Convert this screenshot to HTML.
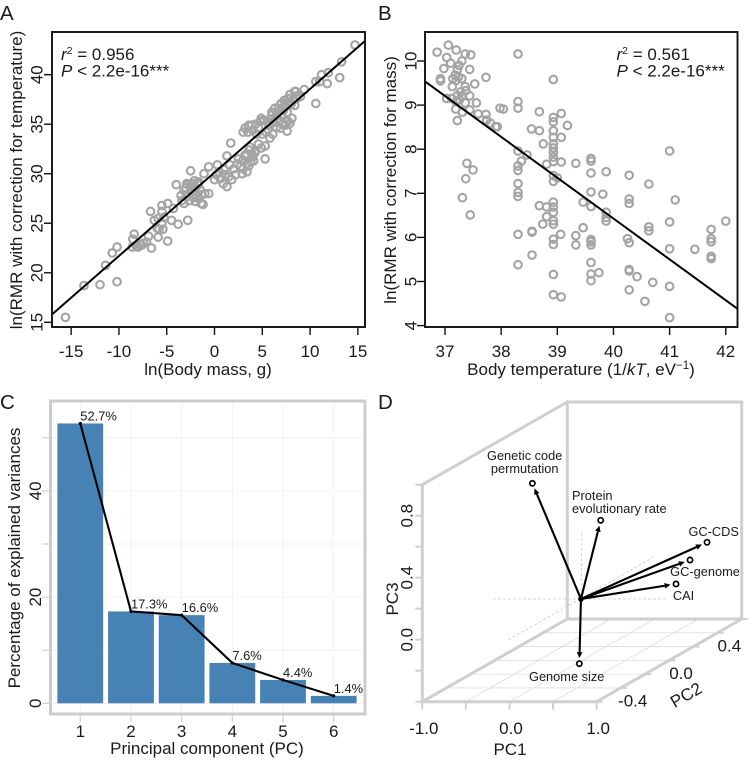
<!DOCTYPE html>
<html lang="en">
<head>
<meta charset="utf-8">
<title>RMR and PCA panels</title>
<style>
html,body{margin:0;padding:0;background:#fff;}
svg{display:block;font-family:"Liberation Sans",Arial,sans-serif;fill:#1a1a1a;}
</style>
</head>
<body>
<svg id="figure" xmlns="http://www.w3.org/2000/svg" width="750" height="762" viewBox="0 0 750 762">
  <rect x="0" y="0" width="750" height="762" fill="#fff"/>
  <text x="0" y="20" font-size="20.5">A</text>
  <text x="378" y="20" font-size="20.5">B</text>
  <text x="0" y="409" font-size="20.5">C</text>
  <text x="378" y="409" font-size="20.5">D</text>

  <g id="panelA"></g>
  <g id="panelB"></g>
  <g id="panelC"></g>
  <g id="panelD"></g>

  <text x="61" y="60" font-size="17"><tspan font-style="italic">r</tspan><tspan font-size="10.5" dy="-6">2</tspan><tspan dy="6"> = 0.956</tspan></text>
  <text x="61" y="76.5" font-size="17"><tspan font-style="italic">P</tspan> &lt; 2.2e-16***</text>
  <text x="616.5" y="60" font-size="17"><tspan font-style="italic">r</tspan><tspan font-size="10.5" dy="-6">2</tspan><tspan dy="6"> = 0.561</tspan></text>
  <text x="616.5" y="76.5" font-size="17"><tspan font-style="italic">P</tspan> &lt; 2.2e-16***</text>

  <text x="208" y="375" font-size="17" text-anchor="middle">ln(Body mass, g)</text>
  <text transform="translate(22,180) rotate(-90)" font-size="17" text-anchor="middle">ln(RMR with correction for temperature)</text>
  <text x="581" y="375" font-size="17" text-anchor="middle">Body temperature (1/<tspan font-style="italic">kT</tspan>, eV<tspan font-size="11.5" dy="-6">−1</tspan><tspan dy="6">)</tspan></text>
  <text transform="translate(396,180) rotate(-90)" font-size="17" text-anchor="middle">ln(RMR with correction for mass)</text>
  <text x="207" y="754" font-size="17" text-anchor="middle">Principal component (PC)</text>
  <text transform="translate(20,558) rotate(-90)" font-size="17" text-anchor="middle">Percentage of explained variances</text>
  <text x="510" y="755" font-size="17" text-anchor="middle">PC1</text>
  <text transform="translate(398,599) rotate(-90)" font-size="17" text-anchor="middle">PC3</text>
  <text transform="translate(689,700) rotate(-30)" font-size="17" text-anchor="middle">PC2</text>
</svg>

<script>
// Panel A data
var massValues = [-15.6,-13.66,-11.98,-10.2,-11.4,-10.7,-10.2,-8.4,-8.55,-8.6,-8.0,-7.6,-6.9,-7.1,-6.6,-5.9,-4.9,-5.8,-5.4,-6.0,-4.5,-3.8,-2.8,-6.7,-5.5,-4.9,-5.5,-4.3,-6.3,-5.9,-5.5,-5.3,-7.8,-7.4,-8.2,
-3.5,-3.2,-3,-2.8,-2.5,-2.3,-2,-1.7,-3.4,-3.2,-2.9,-2.6,-2.2,-1.9,-1.6,-1.3,-1,-0.6,-2.4,-2.1,-1.8,-1.5,-2.0,-1.4,-1.2,
-4,-2.9,-2.5,-1.7,-1.1,-0.6,0.3,0,0.9,1.3,1.8,1.1,1.6,1.3,1.7,2,3,3.4,3.2,3.7,3.9,4.2,4.1,5.3,5.3,5.8,3,3.9,3.5,4.4,4.9,5.2,6,6.7,7,7.7,8.1,7.6,7.9,6.9,
3.2,3.6,4.0,4.3,4.6,4.8,5.1,5.4,5.7,5.9,6.2,6.4,6.6,6.8,7.0,7.2,7.4,7.6,7.8,8.0,8.2,8.4,8.7,9.0,5.0,5.6,6.1,6.5,7.1,7.4,7.7,6.0,6.3,6.9,7.3,7.9,8.5,
2.4,2.7,3.0,3.3,3.6,3.8,4.0,4.3,2.9,3.4,2.2,1.5,2.5,3.6,4.6,4.9,1.0,0.5,0.2,0.6,
9.4,8.4,8.6,10.6,11.0,10.6,11.2,11.8,11.9,13.1,13.3,14.7];
var rmrCorrectedValues = [15.5,18.7,18.8,19.1,20.75,22.0,22.6,23.9,23.4,22.6,22.6,22.8,23.7,23.1,22.5,23.6,23.2,24.4,24.4,24.5,25.3,24.9,25.3,26.2,26.8,27.0,26.2,26.5,25.3,25.5,25.0,25.6,22.9,23.0,22.7,
27.8,28.3,28.6,28.9,28.7,28.2,28.6,28.9,27.3,27.0,27.7,27.3,27.6,27.9,27.5,27.9,28.0,28.0,29,29.3,29.1,28.4,27.2,27.0,26.9,
28.9,29.0,30.3,29.2,30.0,30.7,30.9,29.4,29,28.7,29.4,29.9,30.9,31.8,33.1,30.5,30.5,31,31.9,32.7,32,32.1,31.3,31.5,32.8,33.6,34.2,34.9,34.2,34,35.6,35.4,35.9,36.6,37.1,37.6,35.6,34.3,35.1,34.6,
34.6,34.9,34.4,35.0,34.6,35.3,35.4,34.2,35.0,35.5,35.2,35.8,36.2,35.4,35.9,36.4,36.9,36.2,37.2,37.0,37.5,36.9,37.9,37.8,34,34.5,34.0,34.7,35.0,34.9,35.3,36.2,36.6,37.0,37.4,38.0,38.3,
31.0,30.7,31.4,31.8,30.8,31.2,31.7,32.3,30.0,30.2,29.9,29.7,31.5,32.4,33,32.6,30.4,30.2,29.9,29.5,
38.5,38.3,37.6,37.1,39.3,39.3,40.0,39.1,40.2,39.7,41.3,43.0];
var fitA = [30.13, 0.843];
var xTicksA = [-15,-10,-5,0,5,10,15];
var yTicksA = [15,20,25,30,35,40];

// Panel B data
var bodyTempValues = [37.06,36.86,37.2,37.36,37.46,37.03,37.1,37.3,37.25,36.98,37.44,37.22,37.18,37.24,37.14,37.2,36.92,36.92,37.3,37.73,37.53,37.13,37.36,37.37,37.28,37.22,37.3,37.44,37.03,37.12,37.26,37.2,37.36,37.56,37.44,37.31,37.19,37.59,37.73,37.74,37.81,37.9,37.93,37.22,37.98,38.04,38.3,38.3,38.3,
38.93,38.68,39.07,38.93,38.93,39.18,38.54,38.68,38.93,38.93,39.07,38.75,38.93,38.93,38.93,38.93,38.93,39.07,38.3,38.46,38.36,38.3,38.3,38.3,38.3,38.3,37.39,37.5,37.37,37.31,37.45,38.81,38.93,39.0,38.93,39.33,39.6,39.6,39.6,39.87,40.28,40.63,41.0,39.6,39.81,40.28,41.1,40.28,
39.46,39.6,39.87,39.87,39.87,38.68,38.81,38.93,38.93,38.93,38.81,38.74,38.93,38.93,39.46,39.06,39.33,39.33,39.6,39.6,39.6,38.3,38.55,38.55,38.93,38.93,38.55,38.3,38.93,39.6,39.6,39.6,39.74,38.93,39.07,
40.25,40.28,40.63,40.63,41.0,41.0,41.45,41.74,41.74,41.74,41.74,41.74,42.0,40.28,40.28,40.42,40.7,40.28,40.56,41.0,41.0];
var rmrMassValues = [10.36,10.2,10.25,10.16,10.14,10.08,9.95,10.0,9.9,9.83,9.81,9.8,9.68,9.64,9.6,9.56,9.6,9.55,9.6,9.63,9.48,9.42,9.42,9.33,9.3,9.22,9.2,9.21,9.15,9.15,9.12,9.08,9.05,9.05,8.89,8.84,8.91,8.8,8.79,8.66,8.59,8.51,8.51,8.65,8.93,8.91,10.16,9.08,8.93,
9.58,8.85,8.81,8.72,8.62,8.54,8.46,8.42,8.42,8.27,8.27,8.12,8.12,8.03,7.93,7.82,7.72,7.71,7.96,7.87,7.73,7.62,7.52,7.22,7.02,6.93,7.68,7.53,7.33,6.9,6.51,7.66,7.4,7.35,7.27,7.68,7.79,7.73,7.46,7.49,7.41,7.21,7.96,7.03,6.98,6.87,6.85,6.77,
6.8,6.7,6.57,6.45,6.37,6.72,6.69,6.8,6.69,6.57,6.47,6.3,6.38,6.3,6.22,6.07,6.04,5.83,5.95,5.9,5.83,6.07,6.14,6.12,5.96,5.84,5.6,5.38,5.16,5.43,5.17,5.02,5.2,4.7,4.65,
5.97,5.88,6.24,6.15,6.35,5.74,5.73,6.18,5.97,5.9,5.57,5.52,6.37,5.27,5.24,5.11,4.98,4.81,4.55,4.89,4.18];
var fitB = [9.53, -0.926, 36.65];
var xTicksB = [37,38,39,40,41,42];
var yTicksB = [4,5,6,7,8,9,10];

// Panel C data
var components = [1,2,3,4,5,6];
var explained = [52.7,17.3,16.6,7.6,4.4,1.4];
var explainedLabels = ['52.7%','17.3%','16.6%','7.6%','4.4%','1.4%'];
var yTicksC = [0,10,20,30,40,50];
var yLabelsC = [0,20,40];

// Panel D data
var loadingNames = ['genetic-code','protein-rate','gc-cds','gc-genome','cai','genome-size'];
var pc1Loadings = [-0.015,0.353,0.949,0.823,0.801,0.385];
var pc2Loadings = [-0.2,0.1,0.55,0.5,0.4,-0.1];
var pc3Loadings = [0.92,0.548,0.206,0.114,0.004,-0.288];
var loadingOrigin = [0.265,0,0.085];
var pc1Ticks = [-1,-0.5,0,0.5,1];
var pc1Labels = ['-1.0','0.0','1.0'];
var pc1LabelValues = [-1,0,1];
var pc2Ticks = [-0.4,-0.2,0,0.2,0.4,0.6,0.8];
var pc2Labels = ['-0.4','0.0','0.4'];
var pc2LabelValues = [-0.4,0,0.4];
var pc3Ticks = [-0.4,-0.2,0,0.2,0.4,0.6,0.8,1.0];
var pc3Labels = ['0.0','0.4','0.8'];
var pc3LabelValues = [0,0.4,0.8];

var NS = 'http://www.w3.org/2000/svg';
function mk(tag, attrs, parent) {
  var el = document.createElementNS(NS, tag);
  for (var k in attrs) el.setAttribute(k, attrs[k]);
  parent.appendChild(el);
  return el;
}

function drawScatter(panel, prefix, box, sx, sy, xs, ys, xTicks, yTicks, yLabelX, fitFn) {
  var i, el;
  for (i = 0; i < xs.length; i++) {
    el = mk('circle', {cx: sx(xs[i]), cy: sy(ys[i]), r: 3.8, fill: 'none', stroke: '#a4a4a4', 'stroke-width': 2.1}, panel);
    
    
  }
  var x0 = box[0], x1 = box[2];
  var invX = function (px) { return fitFn.invX(px); };
  el = mk('line', {x1: x0 + 0.5, y1: sy(fitFn.y(invX(x0 + 0.5))), x2: x1 - 0.5, y2: sy(fitFn.y(invX(x1 - 0.5))), stroke: '#000', 'stroke-width': 2}, panel);
  
  
  el = mk('rect', {x: box[0], y: box[1], width: box[2] - box[0], height: box[3] - box[1], fill: 'none', stroke: '#111', 'stroke-width': 1.9}, panel);
  
  
  xTicks.forEach(function (v) {
    var t = mk('line', {x1: sx(v), x2: sx(v), y1: box[3], y2: box[3] + 8, stroke: '#111', 'stroke-width': 1.4}, panel);
    
    
    var l = mk('text', {x: sx(v), y: 357, 'font-size': 17, 'text-anchor': 'middle'}, panel);
    l.textContent = String(v);
    
    
  });
  yTicks.forEach(function (v) {
    var t = mk('line', {x1: box[0] - 8, x2: box[0], y1: sy(v), y2: sy(v), stroke: '#111', 'stroke-width': 1.4}, panel);
    
    
    var l = mk('text', {transform: 'translate(' + yLabelX + ',' + sy(v) + ') rotate(-90)', 'font-size': 17, 'text-anchor': 'middle'}, panel);
    l.textContent = String(v);
    
    
  });
}

// Panel A
(function () {
  var sx = function (v) { return 214.5 + v * 9.556; };
  var sy = function (v) { return 322.3 - (v - 15) * 9.904; };
  drawScatter(document.getElementById('panelA'), 'mass', [52, 32, 365, 327], sx, sy, massValues, rmrCorrectedValues, xTicksA, yTicksA, 42.5, {
    invX: function (px) { return (px - 214.5) / 9.556; },
    y: function (x) { return fitA[0] + fitA[1] * x; }
  });
})();

// Panel B
(function () {
  var sx = function (v) { return 445 + (v - 37) * 56.15; };
  var sy = function (v) { return 61 + (10 - v) * 44.1; };
  drawScatter(document.getElementById('panelB'), 'temperature', [425, 32, 737.5, 327], sx, sy, bodyTempValues, rmrMassValues, xTicksB, yTicksB, 416.5, {
    invX: function (px) { return 37 + (px - 445) / 56.15; },
    y: function (x) { return fitB[0] + fitB[1] * (x - fitB[2]); }
  });
})();

// Panel C
(function () {
  var g = document.getElementById('panelC');
  var sx = function (v) { return 80.3 + (v - 1) * 50.68; };
  var sy = function (v) { return 703.3 - v * 5.31; };
  var el;
  yTicksC.forEach(function (v) {
    var gl = mk('line', {x1: 50, x2: 365, y1: sy(v), y2: sy(v), stroke: '#efefef', 'stroke-width': 0.8}, g);
    
    
    var t = mk('line', {x1: 42, x2: 49, y1: sy(v), y2: sy(v), stroke: '#cfcfcf', 'stroke-width': 1.2}, g);
    
    
  });
  components.forEach(function (c) {
    var gl = mk('line', {x1: sx(c), x2: sx(c), y1: 401, y2: 714, stroke: '#efefef', 'stroke-width': 0.8}, g);
    
    
    var t = mk('line', {x1: sx(c), x2: sx(c), y1: 715, y2: 722, stroke: '#cfcfcf', 'stroke-width': 1.2}, g);
    
    
    var l = mk('text', {x: sx(c), y: 737, 'font-size': 17, 'text-anchor': 'middle'}, g);
    l.textContent = String(c);
    
    
  });
  yLabelsC.forEach(function (v) {
    var l = mk('text', {transform: 'translate(41,' + sy(v) + ') rotate(-90)', 'font-size': 17, 'text-anchor': 'middle'}, g);
    l.textContent = String(v);
    
    
  });
  components.forEach(function (c, i) {
    var b = mk('rect', {x: sx(c) - 22.9, y: sy(explained[i]), width: 45.8, height: sy(0) - sy(explained[i]), fill: '#4682b4'}, g);
    
    
  });
  var pts = components.map(function (c, i) { return sx(c) + ',' + sy(explained[i]); }).join(' ');
  el = mk('polyline', {points: pts, fill: 'none', stroke: '#000', 'stroke-width': 2.1}, g);
  
  
  components.forEach(function (c, i) {
    var d = mk('circle', {cx: sx(c), cy: sy(explained[i]), r: 1.6, fill: '#000'}, g);
    
    
    var l = mk('text', {x: sx(c), y: sy(explained[i]) - 3, 'font-size': 12.9}, g);
    l.textContent = explainedLabels[i];
    
    
  });
  el = mk('rect', {x: 50.5, y: 401, width: 314.5, height: 313, fill: 'none', stroke: '#cccccc', 'stroke-width': 3}, g);
  
  
})();

// Panel D
(function () {
  var g = document.getElementById('panelD');
  var L = 422.3, B = 701.7, W = 174.4, DX = 145, DY = 82.7, ZS = 155;
  function tOf(pc2) { return (pc2 + 0.4) / 1.2; }
  function px(a, b) { return L + (a + 1) / 2 * W + tOf(b) * DX; }
  function py(b, c) { return B - tOf(b) * DY - (c + 0.4) * ZS; }
  var frameColor = '#cfcfcf', el;

  pc1Ticks.forEach(function (v) {
    var gl = mk('line', {x1: px(v, -0.4), y1: B, x2: px(v, 0.8), y2: py(0.8, -0.4), stroke: '#dcdcdc', 'stroke-width': 0.8}, g);
    
    
    var t = mk('line', {x1: px(v, -0.4), y1: B, x2: px(v, -0.4), y2: B + 8, stroke: frameColor, 'stroke-width': 2}, g);
    
    
  });
  pc2Ticks.forEach(function (v) {
    var gl = mk('line', {x1: px(-1, v), y1: py(v, -0.4), x2: px(1, v), y2: py(v, -0.4), stroke: '#dcdcdc', 'stroke-width': 0.8}, g);
    
    
    var t = mk('line', {x1: px(1, v), y1: py(v, -0.4), x2: px(1, v) + 6, y2: py(v, -0.4), stroke: frameColor, 'stroke-width': 2}, g);
    
    
  });
  pc3Ticks.forEach(function (v) {
    var t = mk('line', {x1: L - 7, y1: py(-0.4, v), x2: L, y2: py(-0.4, v), stroke: frameColor, 'stroke-width': 2}, g);
    
    
  });

  // frame edges, from axis corners
  var edges = [
    [-1, -0.4, -0.4, 1, -0.4, -0.4], [1, -0.4, -0.4, 1, 0.8, -0.4], [-1, -0.4, -0.4, -1, 0.8, -0.4],
    [-1, 0.8, -0.4, 1, 0.8, -0.4], [-1, -0.4, -0.4, -1, -0.4, 1], [-1, -0.4, 1, -1, 0.8, 1],
    [-1, 0.8, -0.4, -1, 0.8, 1], [-1, 0.8, 1, 1, 0.8, 1], [1, 0.8, -0.4, 1, 0.8, 1]
  ];
  edges.forEach(function (e) {
    var ln = mk('line', {x1: px(e[0], e[1]), y1: py(e[1], e[2]), x2: px(e[3], e[4]), y2: py(e[4], e[5]), stroke: frameColor, 'stroke-width': 3, 'stroke-linecap': 'square'}, g);
    
    
  });

  var ox = px(loadingOrigin[0], loadingOrigin[1]), oy = py(loadingOrigin[1], loadingOrigin[2]);
  var dashes = [[ox - 88, oy, ox + 87, oy], [ox + 1, oy - 66, ox, oy], [ox - 72.7, oy + 41, ox + 73, oy - 42]];
  dashes.forEach(function (d) {
    var ln = mk('line', {x1: d[0], y1: d[1], x2: d[2], y2: d[3], stroke: '#cfcfcf', 'stroke-width': 0.9, 'stroke-dasharray': '3 2'}, g);
    
    
  });

  pc1Labels.forEach(function (s, i) {
    var v = pc1LabelValues[i];
    var l = mk('text', {x: px(v, -0.4) + 1.5, y: 734, 'font-size': 17, 'text-anchor': 'middle'}, g);
    l.textContent = s;
    
    
  });
  pc2Labels.forEach(function (s, i) {
    var v = pc2LabelValues[i];
    var l = mk('text', {x: px(1, v) + 36, y: py(v, -0.4) + 5, 'font-size': 17, 'text-anchor': 'middle'}, g);
    l.textContent = s;
    
    
  });
  pc3Labels.forEach(function (s, i) {
    var v = pc3LabelValues[i];
    var l = mk('text', {transform: 'translate(412.5,' + py(-0.4, v) + ') rotate(-90)', 'font-size': 17, 'text-anchor': 'middle'}, g);
    l.textContent = s;
    
    
  });

  loadingNames.forEach(function (name, i) {
    var ex = px(pc1Loadings[i], pc2Loadings[i]), ey = py(pc2Loadings[i], pc3Loadings[i]);
    var dx = ex - ox, dy = ey - oy, len = Math.sqrt(dx * dx + dy * dy), ux = dx / len, uy = dy / len;
    var tx = ex - ux * 5.5, ty = ey - uy * 5.5;
    var bx = tx - ux * 6, by = ty - uy * 6;
    var ln = mk('line', {x1: ox, y1: oy, x2: bx, y2: by, stroke: '#000', 'stroke-width': 2.1}, g);
    
    
    var hd = mk('polygon', {points: tx + ',' + ty + ' ' + (bx - uy * 2.8) + ',' + (by + ux * 2.8) + ' ' + (bx + uy * 2.8) + ',' + (by - ux * 2.8), fill: '#000'}, g);
    
    
    var c = mk('circle', {cx: ex, cy: ey, r: 2.6, fill: '#fff', stroke: '#000', 'stroke-width': 1.7}, g);
    
    
  });
  el = mk('circle', {cx: ox, cy: oy, r: 2.8, fill: '#000'}, g);
  
  

  var labelFont = 12.8;
  var l1 = mk('text', {x: 524.7, y: 460, 'font-size': labelFont, 'text-anchor': 'middle'}, g);
  l1.textContent = 'Genetic code';
  
  
  var l2 = mk('text', {x: 524.7, y: 473, 'font-size': labelFont, 'text-anchor': 'middle'}, g);
  l2.textContent = 'permutation';
  
  
  var l3 = mk('text', {x: 572, y: 500, 'font-size': labelFont}, g);
  l3.textContent = 'Protein';
  
  
  var l4 = mk('text', {x: 572, y: 513, 'font-size': labelFont}, g);
  l4.textContent = 'evolutionary rate';
  
  
  var l5 = mk('text', {x: 713.7, y: 536, 'font-size': labelFont, 'text-anchor': 'middle'}, g);
  l5.textContent = 'GC-CDS';
  
  
  var l6 = mk('text', {x: 705, y: 576, 'font-size': labelFont, 'text-anchor': 'middle'}, g);
  l6.textContent = 'GC-genome';
  
  
  var l7 = mk('text', {x: 683.5, y: 600, 'font-size': labelFont, 'text-anchor': 'middle'}, g);
  l7.textContent = 'CAI';
  
  
  var l8 = mk('text', {x: 566.7, y: 681, 'font-size': labelFont, 'text-anchor': 'middle'}, g);
  l8.textContent = 'Genome size';
  
  
})();
</script>
</body>
</html>
